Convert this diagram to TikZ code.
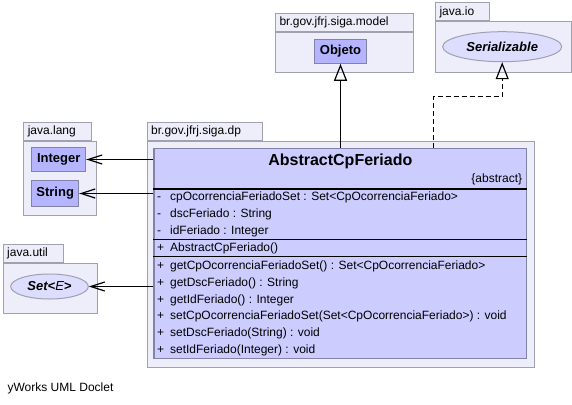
\documentclass[tikz,border=0pt]{standalone}
\usepackage{fontspec}
\setmainfont{Liberation Sans}
\usetikzlibrary{arrows.meta,shapes}
\definecolor{pkgFill}{RGB}{238,238,250}
\definecolor{pkgLine}{RGB}{160,160,176}
\definecolor{clsFill}{RGB}{204,204,255}
\definecolor{clsLine}{RGB}{130,130,170}
\definecolor{refFill}{RGB}{180,180,255}
\definecolor{ifcFill}{RGB}{221,221,255}
\newcommand{\tikzPackage}[6]{
  \node[pkgtab,text width=#4] (#1tab) at (#3) {#2};
  \node[pkgbody,minimum width=#5,minimum height=#6] (#1) at (#1tab.south west) {};
}
\newcommand{\tikzMember}[4]{
  \node[member] (#1) at (156.5,#2) {\makebox[13pt][l]{#3}#4};
}

\begin{document}
\begin{tikzpicture}[x=1pt, y=-1pt, line width=1.2pt,
  pkgtab/.style={draw=pkgLine,fill=pkgFill,line width=1pt,anchor=north west,inner xsep=4pt,inner ysep=0pt,minimum height=18pt,font=\fontsize{12}{14}\selectfont},
  pkgbody/.style={draw=pkgLine,fill=pkgFill,line width=1pt,anchor=north west,inner sep=0pt},
  refbox/.style={draw=clsLine,fill=refFill,line width=1pt,inner sep=0pt,font=\fontsize{13}{15}\selectfont\bfseries},
  ifc/.style={draw=pkgLine,fill=ifcFill,ellipse,line width=1pt,inner sep=0pt,font=\fontsize{13}{15}\selectfont\bfseries\itshape},
  member/.style={anchor=west,inner sep=0pt,text height=9pt,text depth=3pt,font=\fontsize{12}{14}\selectfont},
  clssep/.style={draw=black,line width=1.2pt},
  genline/.style={-{Triangle[open,length=17pt,width=13pt]}},
  realline/.style={-{Triangle[open,length=17pt,width=13pt]},dash pattern=on 5pt off 3pt},
  depline/.style={-{Straight Barb[length=14pt,width=9pt]}}]
  \useasboundingbox (0,0) rectangle (572,404);

  % packages
  \tikzPackage{model}{br.gov.jfrj.siga.model}{275,13}{130.3pt}{138.3pt}{40pt}
  \tikzPackage{io}{java.io}{435,2.5}{46pt}{135.5pt}{50.5pt}
  \tikzPackage{lang}{java.lang}{23.3,121.5}{59.7pt}{72.4pt}{74pt}
  \tikzPackage{dp}{br.gov.jfrj.siga.dp}{146.7,122}{107pt}{387pt}{226pt}
  \tikzPackage{util}{java.util}{2.7,244}{52.6pt}{94pt}{50.3pt}

  \node[refbox,minimum width=52.4pt,minimum height=24pt] (objeto) at (340.5,51.3) {Objeto};
  \node[ifc,minimum width=119pt,minimum height=30pt] (serial) at (502.2,46.7) {Serializable};
  \node[refbox,minimum width=54pt,minimum height=23.4pt] (integer) at (58.7,159.5) {Integer};
  \node[refbox,minimum width=47pt,minimum height=25.7pt] (string) at (55.2,193.5) {String};
  \node[ifc,minimum width=77.6pt,minimum height=25pt] (setE) at (49.5,286.5) {Set<\textmd{E}>};

  % the class
  \node[draw=clsLine,fill=clsFill,line width=1.2pt,minimum width=372.7pt,minimum height=210pt,inner sep=0pt] (cls) at (340.35,253.3) {};
  \node[font=\fontsize{16}{18}\selectfont\bfseries,inner sep=0pt] (title) at (340.3,161.7) {AbstractCpFeriado};
  \node[font=\fontsize{12}{14}\selectfont,anchor=east,inner sep=0pt] (abs) at (522.7,179) {\{abstract\}};
  \draw[clssep] (cls.west |- 0,189) -- (cls.east |- 0,189);
  \draw[clssep] (cls.west |- 0,239.3) -- (cls.east |- 0,239.3);
  \draw[clssep] (cls.west |- 0,256.7) -- (cls.east |- 0,256.7);

  \tikzMember{f1}{197.7}{-}{cpOcorrenciaFeriadoSet : Set<CpOcorrenciaFeriado>}
  \tikzMember{f2}{214.3}{-}{dscFeriado : String}
  \tikzMember{f3}{231}{-}{idFeriado : Integer}
  \tikzMember{c1}{248.3}{+}{AbstractCpFeriado()}
  \tikzMember{m1}{266.7}{+}{getCpOcorrenciaFeriadoSet() : Set<CpOcorrenciaFeriado>}
  \tikzMember{m2}{283.3}{+}{getDscFeriado() : String}
  \tikzMember{m3}{300}{+}{getIdFeriado() : Integer}
  \tikzMember{m4}{316.7}{+}{setCpOcorrenciaFeriadoSet(Set<CpOcorrenciaFeriado>) : void}
  \tikzMember{m5}{333.3}{+}{setDscFeriado(String) : void}
  \tikzMember{m6}{350}{+}{setIdFeriado(Integer) : void}

  % connectors
  \draw[genline] (objeto.south |- cls.north) -- (objeto.south);
  \coordinate (bend) at (433.3,96.7);
  \draw[realline] (bend |- cls.north) -- (bend) -| (serial.south);
  \draw[depline] (integer.east -| cls.west) -- (integer.east);
  \draw[depline] (string.east -| cls.west) -- (string.east);
  \draw[depline] (setE.east -| cls.west) -- (setE.east);

  \node[font=\fontsize{12}{14}\selectfont,anchor=west,inner sep=0pt] (credit) at (7,388) {yWorks UML Doclet};
\end{tikzpicture}
\end{document}
